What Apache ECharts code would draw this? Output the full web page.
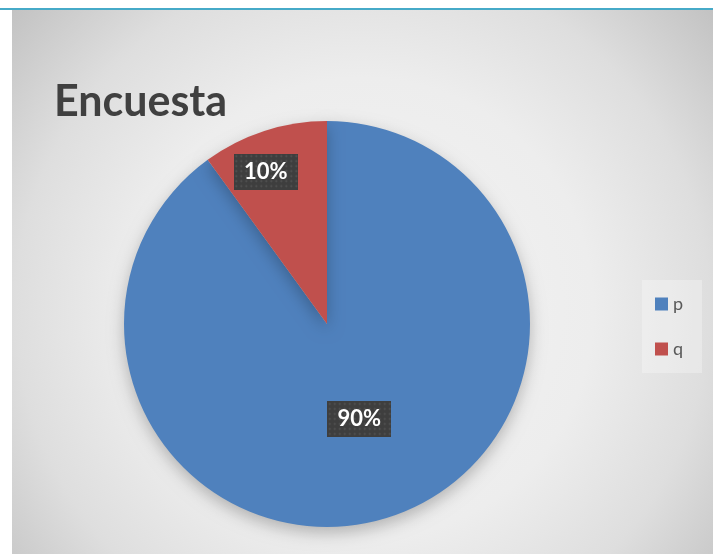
<!DOCTYPE html>
<html>
<head>
<meta charset="utf-8">
<title>Encuesta</title>
<script src="https://cdn.jsdelivr.net/npm/echarts@6/dist/echarts.min.js"></script>
<style>
  html, body { margin: 0; padding: 0; background: #ffffff; }
  #chart { width: 713px; height: 554px; }
</style>
</head>
<body>
<div id="chart"></div>
<script>
// Survey answers
const categories = ['p', 'q'];
const values = [90, 10];
const sliceColors = ['#4F81BD', '#C0504D'];
const titleText = 'Encuesta';

// Dark dotted tile used behind the percentage labels
function dottedTile(w, h) {
  const c = document.createElement('canvas');
  c.width = w; c.height = h;
  const ctx = c.getContext('2d');
  ctx.fillStyle = '#3e3e3e';
  ctx.fillRect(0, 0, w, h);
  for (let y = 2; y < h; y += 5) {
    for (let x = 2; x < w; x += 5) {
      ctx.fillStyle = '#575757';
      ctx.fillRect(x, y, 1, 1);
      ctx.fillStyle = '#494949';
      ctx.fillRect(x - 1, y, 1, 1);
      ctx.fillRect(x + 1, y, 1, 1);
      ctx.fillRect(x, y - 1, 1, 1);
      ctx.fillRect(x, y + 1, 1, 1);
    }
  }
  return c;
}
const labelTile = dottedTile(64, 36);

const chart = echarts.init(document.getElementById('chart'), null, { renderer: 'canvas' });

chart.setOption({
  animation: false,
  graphic: [
    {
      type: 'rect', silent: true, z: -10,
      shape: { x: 12, y: 10, width: 701, height: 544 },
      style: {
        fill: new echarts.graphic.RadialGradient(0.5, 0.55, 0.85, [
          { offset: 0, color: '#f4f4f4' },
          { offset: 0.5, color: '#ededed' },
          { offset: 0.75, color: '#dedede' },
          { offset: 1, color: '#c2c2c2' }
        ])
      }
    },
    {
      type: 'line', silent: true, z: -5,
      shape: { x1: 0, y1: 9, x2: 713, y2: 9 },
      style: { stroke: '#46aac8', lineWidth: 2 }
    }
  ],
  title: {
    text: titleText,
    left: 49,
    top: 76,
    textStyle: {
      fontFamily: 'Lato',
      fontWeight: 'bold',
      fontSize: 43,
      color: '#404040'
    }
  },
  legend: {
    orient: 'vertical',
    left: 642,
    top: 280,
    padding: [15, 19, 15, 13],
    backgroundColor: 'rgba(255,255,255,0.28)',
    data: categories,
    icon: 'rect',
    itemWidth: 13,
    itemHeight: 13,
    itemGap: 27,
    textStyle: {
      fontFamily: 'Lato',
      fontSize: 18,
      color: '#595959'
    }
  },
  series: [
    {
      type: 'pie',
      center: [327, 324],
      radius: 203,
      startAngle: 90,
      clockwise: true,
      data: categories.map((name, i) => ({
        name: name,
        value: values[i],
        itemStyle: { color: sliceColors[i] }
      })),
      itemStyle: {
        shadowBlur: 16,
        shadowColor: 'rgba(0,0,0,0.25)',
        shadowOffsetY: 6
      },
      label: {
        show: true,
        position: 'inside',
        formatter: p => p.percent + '%',
        fontFamily: 'Lato',
        fontWeight: 'bold',
        fontSize: 22,
        color: '#ffffff',
        width: 46,
        height: 24,
        lineHeight: 24,
        overflow: 'none',
        align: 'center',
        verticalAlign: 'middle',
        padding: [6, 9],
        backgroundColor: { image: labelTile },
        shadowColor: 'rgba(0,0,0,0.5)',
        shadowBlur: 6,
        shadowOffsetX: 4,
        shadowOffsetY: 4
      },
      labelLine: { show: false },
      labelLayout: p => (p.dataIndex === 1 ? { dx: -29, dy: -53 } : { dy: -4 }),
      emphasis: { disabled: true }
    }
  ]
});
</script>
</body>
</html>
